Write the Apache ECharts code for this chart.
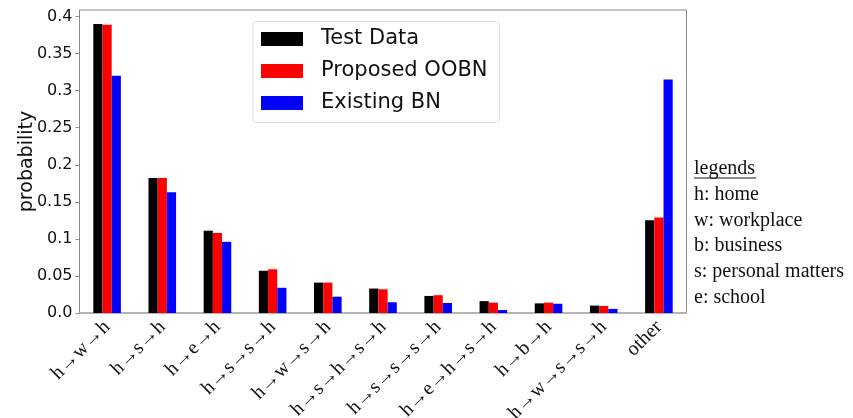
<!DOCTYPE html>
<html>
<head>
<meta charset="utf-8">
<script src="https://cdn.jsdelivr.net/npm/echarts@6/dist/echarts.min.js"></script>
<style>
  html, body { margin: 0; padding: 0; background: #fff; }
  #chart { width: 853px; height: 418px; }
</style>
</head>
<body>
<div id="chart"></div>
<script>
// Trip-pattern categories (h: home, w: workplace, b: business, s: personal matters, e: school)
const categories = [
  'h→w→h', 'h→s→h', 'h→e→h', 'h→s→s→h', 'h→w→s→h', 'h→s→h→s→h',
  'h→s→s→s→h', 'h→e→h→s→h', 'h→b→h', 'h→w→s→s→h', 'other'
];
const testData = [0.390, 0.182, 0.111, 0.057, 0.041, 0.033, 0.023, 0.016, 0.013, 0.010, 0.125];
const proposedOOBN = [0.389, 0.182, 0.108, 0.059, 0.041, 0.032, 0.024, 0.014, 0.014, 0.0095, 0.129];
const existingBN = [0.320, 0.163, 0.096, 0.034, 0.022, 0.0145, 0.0135, 0.004, 0.0125, 0.0055, 0.315];

const yTickValues = [0, 0.05, 0.1, 0.15, 0.2, 0.25, 0.3, 0.35, 0.4];
const yTickLabels = ['0.0', '0.05', '0.1', '0.15', '0.2', '0.25', '0.3', '0.35', '0.4'];

const seriesNames = ['Test Data', 'Proposed OOBN', 'Existing BN'];
const seriesColors = ['#000000', '#ff0000', '#0000ff'];
const seriesValues = [testData, proposedOOBN, existingBN];

const keyLines = ['h: home', 'w: workplace', 'b: business', 's: personal matters', 'e: school'];

const SANS = 'DejaVu Sans';
const SERIF = 'Liberation Serif';

const chart = echarts.init(document.getElementById('chart'), null, { renderer: 'canvas' });

const keyGraphics = [
  {
    type: 'text', left: 694, top: 158.5,
    style: { text: 'legends', font: '20px "' + SERIF + '"', fill: '#111' }
  },
  {
    type: 'line', shape: { x1: 694, y1: 178, x2: 756, y2: 178 },
    style: { stroke: '#111', lineWidth: 1 }
  }
];
keyLines.forEach(function (t, i) {
  keyGraphics.push({
    type: 'text', left: 694, top: 184.5 + i * 25.8,
    style: { text: t, font: '20px "' + SERIF + '"', fill: '#111' }
  });
});

chart.setOption({
  animation: false,
  backgroundColor: '#ffffff',
  grid: {
    left: 79.5, right: 166.5, top: 10, bottom: 105,
    outerBoundsMode: 'none',
    show: true, borderColor: '#8a8a8a', borderWidth: 1, containLabel: false
  },
  legend: {
    data: seriesNames,
    orient: 'vertical',
    left: 253, top: 21.5,
    itemWidth: 42, itemHeight: 14,
    itemGap: 11,
    padding: [7, 12, 9, 8],
    borderColor: '#dcdcdc', borderWidth: 1, borderRadius: 3,
    backgroundColor: '#fff',
    icon: 'rect',
    textStyle: {
      fontFamily: SANS, fontSize: 21, color: '#111', lineHeight: 21,
      padding: [0, 0, 0, 13]
    }
  },
  xAxis: {
    type: 'category',
    data: categories,
    boundaryGap: true,
    axisLine: { lineStyle: { color: '#b0b0b0', width: 1.5 } },
    axisTick: { alignWithLabel: true, length: 4, lineStyle: { color: '#999' } },
    axisLabel: {
      rotate: 45, interval: 0, margin: 11,
      fontFamily: SERIF, fontSize: 20, color: '#111'
    },
    splitLine: { show: false }
  },
  yAxis: {
    type: 'value',
    min: 0, max: 0.4088, interval: 0.05,
    name: 'probability',
    nameLocation: 'middle', nameGap: 43,
    nameMoveOverlap: false,
    nameTextStyle: { fontFamily: SANS, fontSize: 19, color: '#111' },
    axisLine: { show: true, lineStyle: { color: '#8a8a8a', width: 1 } },
    axisTick: { show: true, length: 4, lineStyle: { color: '#8a8a8a' } },
    axisLabel: {
      margin: 7, fontFamily: SANS, fontSize: 16, color: '#111',
      showMaxLabel: false,
      formatter: function (v) {
        for (let i = 0; i < yTickValues.length; i++) {
          if (Math.abs(v - yTickValues[i]) < 1e-6) return yTickLabels[i];
        }
        return '';
      }
    },
    splitLine: { show: false }
  },
  series: seriesNames.map(function (name, i) {
    return {
      name: name,
      type: 'bar',
      data: seriesValues[i],
      barWidth: 9.2,
      barGap: '0%',
      itemStyle: { color: seriesColors[i] }
    };
  }),
  graphic: keyGraphics
});
</script>
</body>
</html>
